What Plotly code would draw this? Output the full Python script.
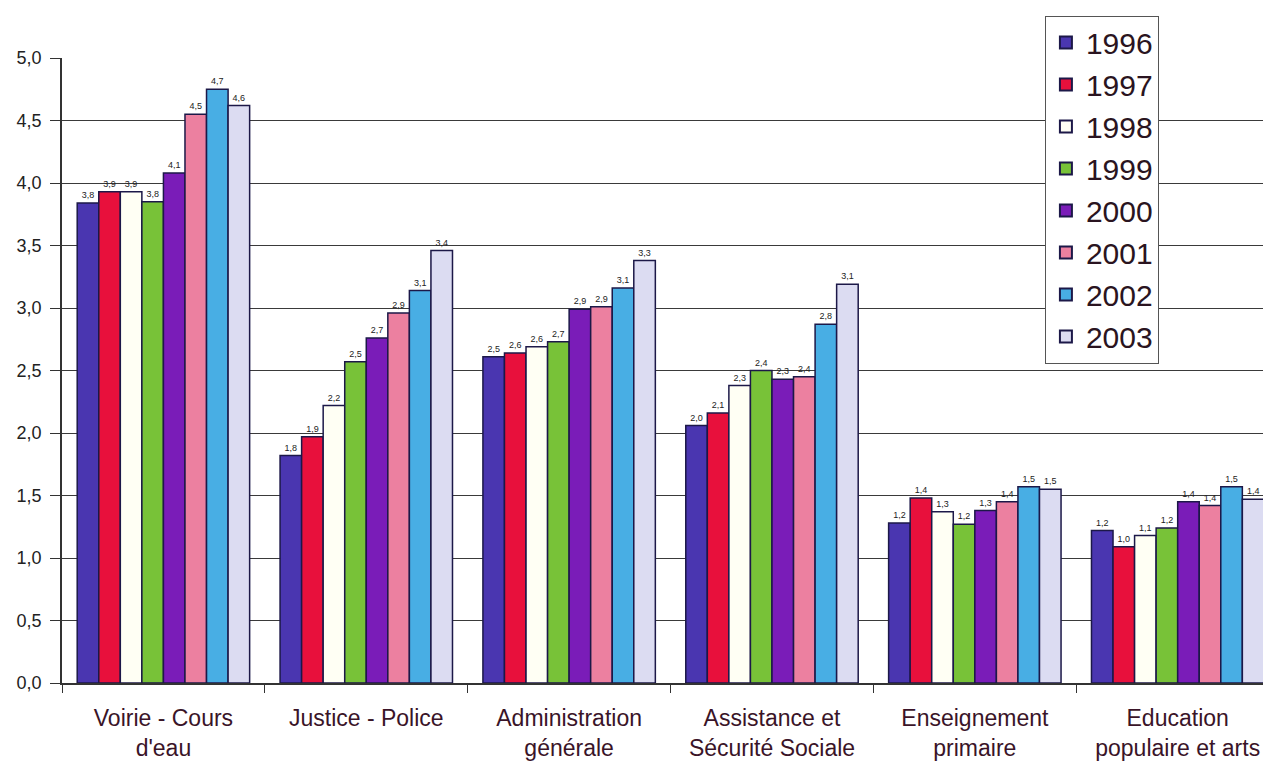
import plotly.graph_objects as go

categories = ["Voirie - Cours<br>d'eau", "Justice - Police", "Administration<br>générale",
              "Assistance et<br>Sécurité Sociale", "Enseignement<br>primaire",
              "Education<br>populaire et arts"]
years = ["1996", "1997", "1998", "1999", "2000", "2001", "2002", "2003"]

# bar heights per year (one value per category)
v1996 = [3.84, 1.82, 2.61, 2.06, 1.28, 1.22]
v1997 = [3.93, 1.97, 2.64, 2.16, 1.48, 1.09]
v1998 = [3.93, 2.22, 2.69, 2.38, 1.37, 1.18]
v1999 = [3.85, 2.57, 2.73, 2.50, 1.27, 1.24]
v2000 = [4.08, 2.76, 2.99, 2.43, 1.38, 1.45]
v2001 = [4.55, 2.96, 3.01, 2.45, 1.45, 1.42]
v2002 = [4.75, 3.14, 3.16, 2.87, 1.57, 1.57]
v2003 = [4.62, 3.46, 3.38, 3.19, 1.55, 1.47]

# printed value labels
l1996 = ["3,8", "1,8", "2,5", "2,0", "1,2", "1,2"]
l1997 = ["3,9", "1,9", "2,6", "2,1", "1,4", "1,0"]
l1998 = ["3,9", "2,2", "2,6", "2,3", "1,3", "1,1"]
l1999 = ["3,8", "2,5", "2,7", "2,4", "1,2", "1,2"]
l2000 = ["4,1", "2,7", "2,9", "2,3", "1,3", "1,4"]
l2001 = ["4,5", "2,9", "2,9", "2,4", "1,4", "1,4"]
l2002 = ["4,7", "3,1", "3,1", "2,8", "1,5", "1,5"]
l2003 = ["4,6", "3,4", "3,3", "3,1", "1,5", "1,4"]

values = [v1996, v1997, v1998, v1999, v2000, v2001, v2002, v2003]
labels = [l1996, l1997, l1998, l1999, l2000, l2001, l2002, l2003]
colors = ["#4a36b0", "#e8103c", "#fffff4", "#78c238", "#7a1cb8", "#ec80a0", "#48aee4", "#dcdcf2"]

fig = go.Figure()
for y, v, l, c in zip(years, values, labels, colors):
    fig.add_trace(go.Bar(
        name=y, x=categories, y=v, text=l, textposition="outside",
        textfont=dict(size=9, color="#222222", family="Liberation Sans"),
        marker=dict(color=c, line=dict(color="#1c1848", width=1.5)),
        cliponaxis=False,
    ))

fig.update_layout(
    width=1271, height=767,
    paper_bgcolor="white", plot_bgcolor="white",
    barmode="group", bargap=0.15, bargroupgap=0,
    separators=", ",
    margin=dict(l=54, r=8, t=41, b=92),
    font=dict(family="Liberation Sans", color="#2a1420"),
    legend=dict(
        x=0.813, y=1.068, xanchor="left", yanchor="top",
        bordercolor="#555555", borderwidth=1, bgcolor="white",
        font=dict(size=30, color="#2a1420"),
        itemsizing="constant",
    ),
    xaxis=dict(
        range=[-0.5, 5.46], tickson="boundaries", ticks="outside", ticklen=8,
        ticklabelstandoff=14,
        tickcolor="#333", showline=True, linecolor="#333", linewidth=1.5,
        tickfont=dict(size=23, color="#3a1428"), showgrid=False,
    ),
    yaxis=dict(
        range=[0, 5.0], dtick=0.5, tickformat=".1f", ticks="outside", ticklen=10,
        ticklabelstandoff=5,
        tickcolor="#333", showline=True, linecolor="#333", linewidth=1.5,
        showgrid=True, gridcolor="#3a3a3a", gridwidth=1,
        tickfont=dict(size=18, color="#222"), zeroline=False,
    ),
)

fig.write_html("out.html")
